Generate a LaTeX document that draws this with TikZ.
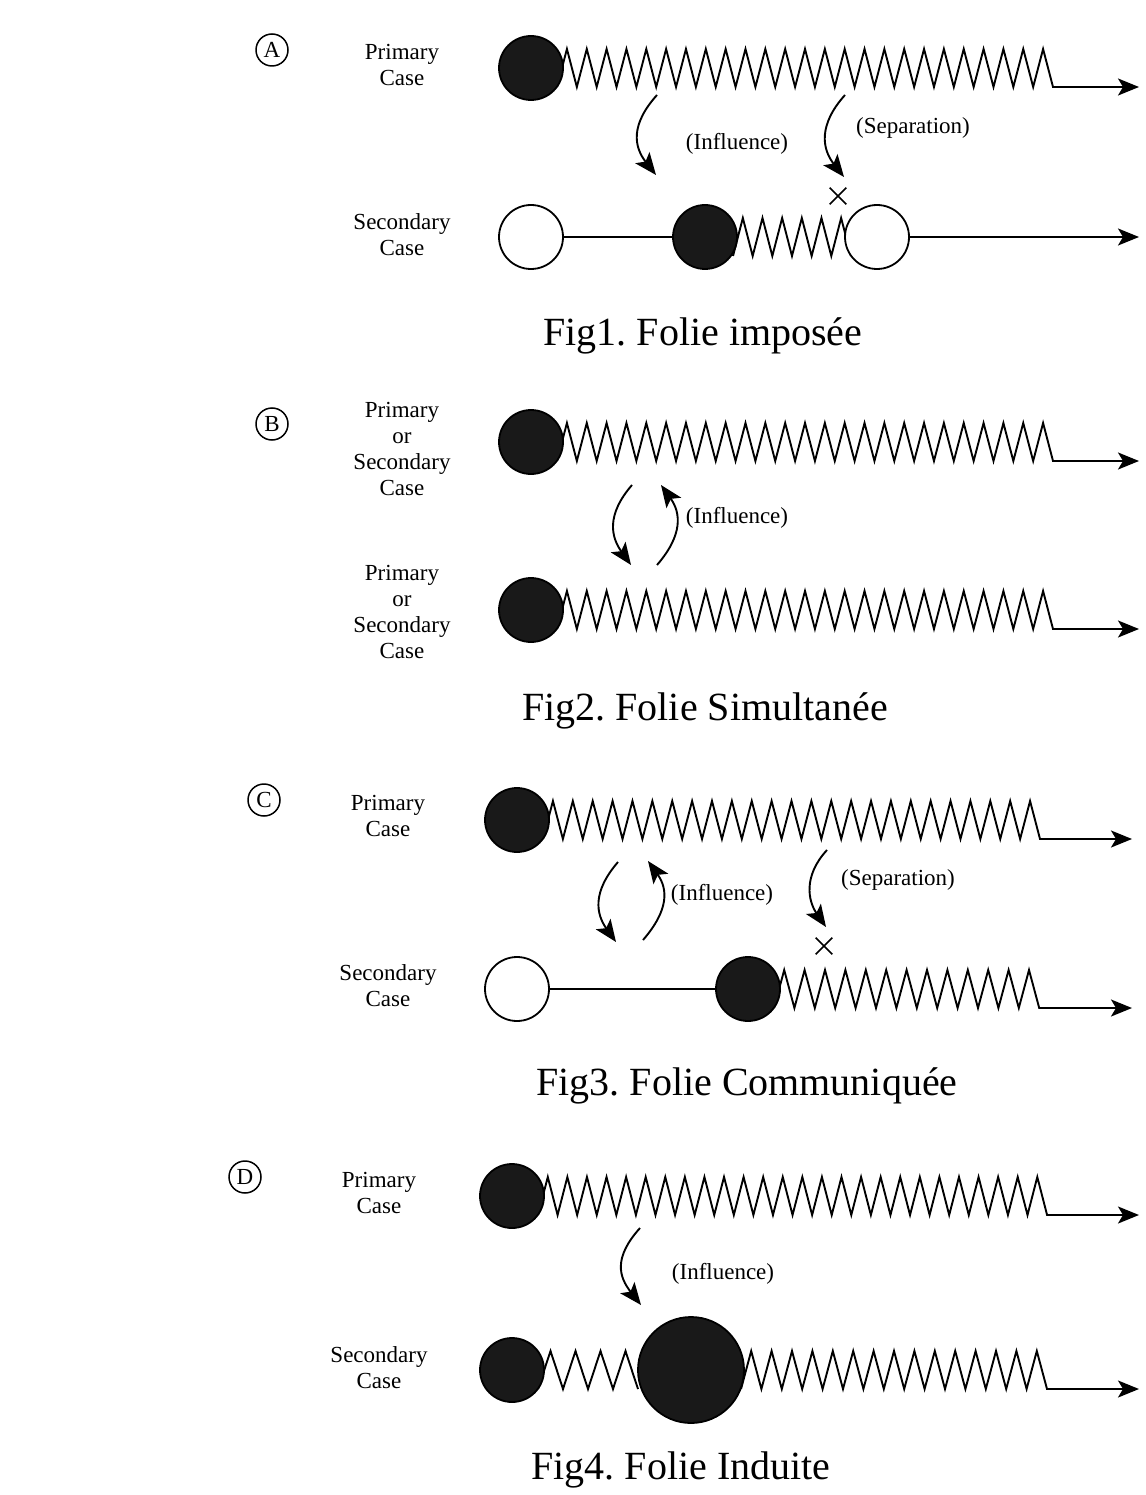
\documentclass[tikz,border=0pt]{standalone}
\usepackage{fontspec}
\setmainfont{Liberation Serif}
\frenchspacing
\usetikzlibrary{arrows.meta,shapes.misc}
\newcommand{\zzrun}[2]{\foreach \k in {1,...,#1}{ -- ++(#2,-38) -- ++(#2,38)}}
\begin{document}
\begin{tikzpicture}[x=1pt,y=-1pt,
 ball/.style={circle, inner sep=0pt, minimum size=64pt, draw=black, line width=1.8pt},
 full/.style={ball, fill=black!90},
 hollow/.style={ball, fill=white},
 zz/.style={line width=1.9pt, line join=miter},
 plain/.style={line width=1.7pt},
 exit/.style={line width=1.8pt, line join=miter, -{Stealth[length=21pt,width=17pt,inset=5pt]}},
 curv/.style={line width=1.9pt, -{Stealth[length=22pt,width=18pt,inset=5pt]}},
 lbl/.style={align=center, font=\fontsize{23}{26}\selectfont},
 figcap/.style={font=\fontsize{40}{44}\selectfont},
 tag/.style={circle, draw, line width=1.5pt, minimum size=32pt, inner sep=0pt, font=\fontsize{23}{23}\selectfont},
 xmark/.style={cross out, draw, line width=1.6pt, minimum size=15pt, inner sep=0pt}]
\useasboundingbox (0,0) rectangle (1145,1495);

% ---------------- A ----------------
\node[tag] (tagA) at (272,50) {A};
\node[lbl] (lpA) at (402,65) {Primary\\Case};
\node[lbl] (lsA) at (402,235) {Secondary\\Case};
\coordinate (zA0) at (557,87);
\coordinate (tA) at (1139,87);
\draw[exit, line width=1.9pt] (zA0) \zzrun{25}{9.92} -- (tA);
\node[full] (pA) at (531,68) {};
\coordinate (zA2) at (733,256);
\draw[zz] (zA2) \zzrun{6}{9.83};
\node[hollow] (sA1) at (531,237) {};
\node[full] (sA2) at (705,237) {};
\node[hollow] (sA3) at (877,237) {};
\coordinate (tA2) at (1139,237);
\draw[plain] (sA1) -- (sA2);
\draw[exit] (sA3) -- (tA2);
\node[xmark] (xA) at (838,196) {};
\coordinate (iA1) at (657,95);
\coordinate (iA2) at (656,175);
\draw[curv] (iA1) .. controls +(-27,30) and +(-22,-28) .. (iA2);
\coordinate (sepA1) at (845,95);
\coordinate (sepA2) at (844,177);
\draw[curv] (sepA1) .. controls +(-27,30) and +(-22,-28) .. (sepA2);
\node[lbl] (infA) at (737,144) {(Influence)};
\node[lbl] (sepA) at (913,128) {(Separation)};
\node[figcap] (capA) at (703,336) {Fig1. Folie imposée};

% ---------------- B ----------------
\node[tag] (tagB) at (272,424) {B};
\node[lbl] (lpB) at (402,449) {Primary\\or\\Secondary\\Case};
\node[lbl] (lsB) at (402,612) {Primary\\or\\Secondary\\Case};
\coordinate (zB0) at (557,461);
\coordinate (tB) at (1139,461);
\draw[exit, line width=1.9pt] (zB0) \zzrun{25}{9.92} -- (tB);
\node[full] (pB) at (531,442) {};
\coordinate (zB1) at (557,629);
\coordinate (tB2) at (1139,629);
\draw[exit, line width=1.9pt] (zB1) \zzrun{25}{9.92} -- (tB2);
\node[full] (sB) at (531,610) {};
\coordinate (iB1) at (632,485);
\coordinate (iB2) at (631,565);
\draw[curv] (iB1) .. controls +(-26,30) and +(-20,-28) .. (iB2);
\coordinate (iB3) at (657,565);
\coordinate (iB4) at (661,485);
\draw[curv] (iB3) .. controls +(26,-30) and +(20,28) .. (iB4);
\node[lbl] (infB) at (737,518) {(Influence)};
\node[figcap] (capB) at (705,711) {Fig2. Folie Simultanée};

% ---------------- C ----------------
\node[tag] (tagC) at (264,800) {C};
\node[lbl] (lpC) at (388,816) {Primary\\Case};
\node[lbl] (lsC) at (388,986) {Secondary\\Case};
\coordinate (zC0) at (543,839);
\coordinate (tC) at (1132,839);
\draw[exit, line width=1.9pt] (zC0) \zzrun{25}{9.94} -- (tC);
\node[full] (pC) at (517,820) {};
\coordinate (zC1) at (774,1008);
\coordinate (tC2) at (1132,1008);
\draw[exit, line width=1.9pt] (zC1) \zzrun{13}{10.2} -- (tC2);
\node[hollow] (sC1) at (517,989) {};
\node[full] (sC2) at (748,989) {};
\draw[plain] (sC1) -- (sC2);
\coordinate (iC1) at (618,862);
\coordinate (iC2) at (616,942);
\draw[curv] (iC1) .. controls +(-26,30) and +(-20,-28) .. (iC2);
\coordinate (iC3) at (643,940);
\coordinate (iC4) at (648,861);
\draw[curv] (iC3) .. controls +(26,-30) and +(20,28) .. (iC4);
\coordinate (sepC1) at (827,850);
\coordinate (sepC2) at (826,927);
\draw[curv] (sepC1) .. controls +(-24,26) and +(-18,-26) .. (sepC2);
\node[xmark] (xC) at (824,946) {};
\node[lbl] (infC) at (722,895) {(Influence)};
\node[lbl] (sepC) at (898,880) {(Separation)};
\node[figcap] (capC) at (747,1086) {Fig3. Folie Communiquée};

% ---------------- D ----------------
\node[tag] (tagD) at (245,1177) {D};
\node[lbl] (lpD) at (379,1193) {Primary\\Case};
\node[lbl] (lsD) at (379,1368) {Secondary\\Case};
\coordinate (zD0) at (538,1215);
\coordinate (tD) at (1139,1215);
\draw[exit, line width=1.9pt] (zD0) \zzrun{26}{9.79} -- (tD);
\node[full] (pD) at (512,1196) {};
\coordinate (zD1) at (538,1389);
\draw[zz] (zD1) \zzrun{4}{12.5};
\coordinate (zD2) at (741,1389);
\coordinate (tD2) at (1139,1389);
\draw[exit, line width=1.9pt] (zD2) \zzrun{15}{10.2} -- (tD2);
\node[full] (sD1) at (512,1370) {};
\node[full, minimum size=106pt] (sD2) at (691,1370) {};
\coordinate (iD1) at (640,1228);
\coordinate (iD2) at (641,1305);
\draw[curv] (iD1) .. controls +(-27,30) and +(-22,-28) .. (iD2);
\node[lbl] (infD) at (723,1274) {(Influence)};
\node[figcap] (capD) at (681,1470) {Fig4. Folie Induite};
\end{tikzpicture}
\end{document}
